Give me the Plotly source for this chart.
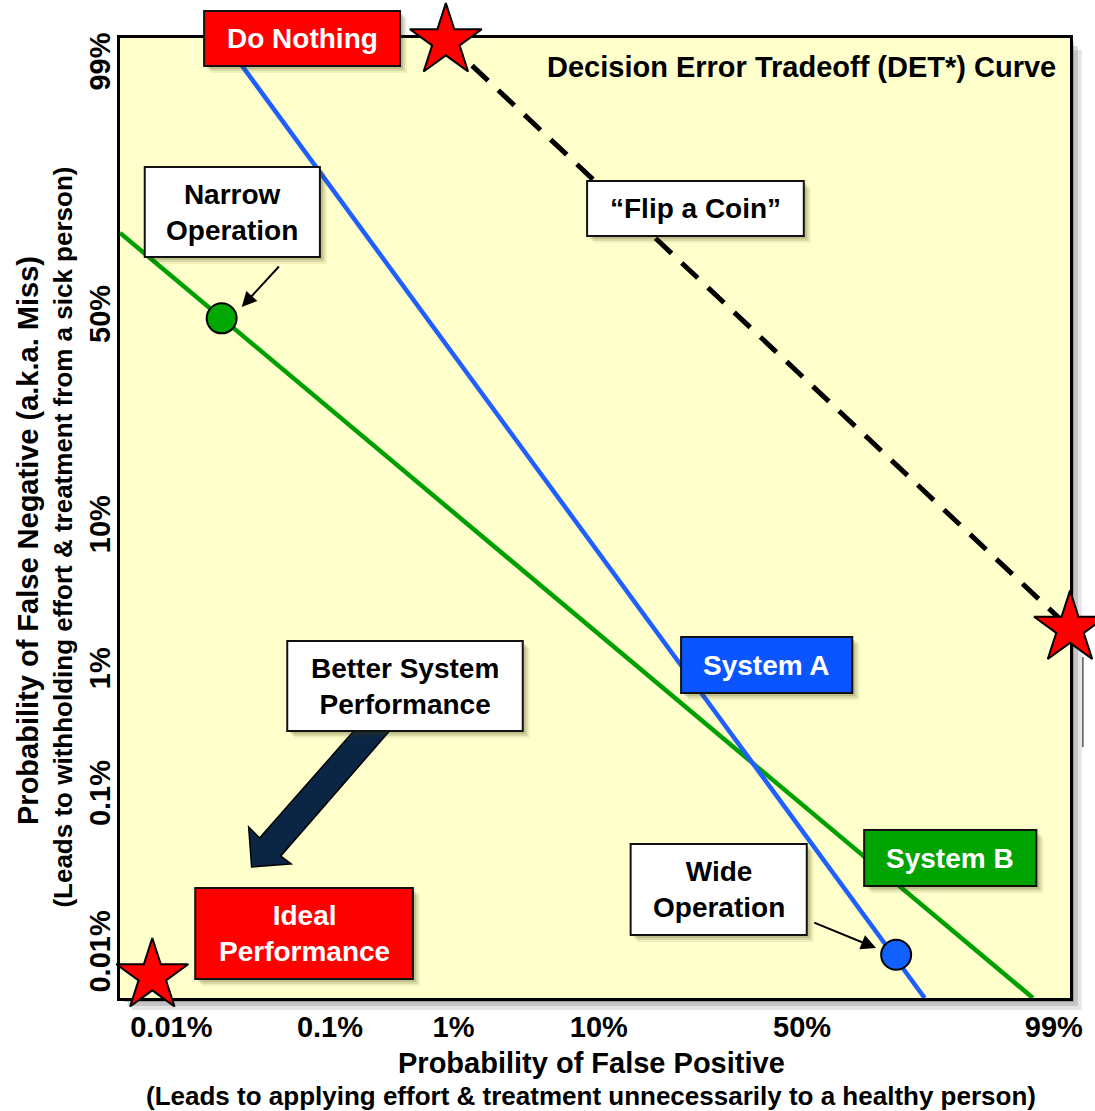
import plotly.graph_objects as go

# ---------------- data (chart units on a 0-100 normal-deviate DET scale) ----------------
tick_labels = ["0.01%", "0.1%", "1%", "10%", "50%", "99%"]
x_tick_vals = [5.4, 22.1, 35.1, 50.4, 71.8, 98.3]
y_tick_vals = [4.4, 20.9, 33.9, 48.9, 70.8, 97.1]

system_a_x = [10.7, 84.7]
system_a_y = [100.0, 0.0]
system_b_x = [0.0, 96.1]
system_b_y = [79.7, 0.0]
coin_x = [34.3, 100.0]
coin_y = [99.7, 38.5]

narrow_x = [10.7]
narrow_y = [70.8]
wide_x = [81.7]
wide_y = [4.5]

star_x = [34.3, 100.0, 3.4]
star_y = [99.7, 38.5, 2.3]

# ---------------- geometry ----------------
W, H = 1095, 1111
L, T, PW, PH = 120, 38, 960, 960
R = W - L - PW
B = H - T - PH

FONT = "Liberation Sans, Arial, Helvetica, sans-serif"
RED = "#FF0000"
BLUE_LINE = "#1F5FFF"
BLUE_BOX = "#0B55FF"
GREEN_LINE = "#00A000"
GREEN_BOX = "#00A400"
NAVY = "#0B2545"
YELLOW = "#FFFFCC"


def fx(px):
    return (px - L) / PW


def fy(py):
    return (T + PH - py) / PH


def ux(px):
    return (px - L) / PW * 100


def uy(py):
    return (T + PH - py) / PH * 100


fig = go.Figure()

fig.add_trace(go.Scatter(x=system_b_x, y=system_b_y, mode="lines",
                         line=dict(color=GREEN_LINE, width=4.5), hoverinfo="skip"))
fig.add_trace(go.Scatter(x=system_a_x, y=system_a_y, mode="lines",
                         line=dict(color=BLUE_LINE, width=4.5), hoverinfo="skip"))
fig.add_trace(go.Scatter(x=coin_x, y=coin_y, mode="lines",
                         line=dict(color="black", width=5, dash="22px,14px"), hoverinfo="skip"))
fig.add_trace(go.Scatter(x=narrow_x, y=narrow_y, mode="markers",
                         marker=dict(size=30, color="#00A800", line=dict(color="black", width=2)),
                         hoverinfo="skip"))
fig.add_trace(go.Scatter(x=wide_x, y=wide_y, mode="markers",
                         marker=dict(size=30, color="#1060FF", line=dict(color="black", width=2)),
                         hoverinfo="skip"))
fig.add_trace(go.Scatter(x=star_x, y=star_y, mode="markers", cliponaxis=False,
                         marker=dict(symbol="star", size=54, color=RED,
                                     line=dict(color="black", width=2)),
                         hoverinfo="skip"))

shapes = []
annotations = []

# plot-area drop shadow
for off, op in [(12, 0.10), (8, 0.14), (4, 0.20)]:
    shapes.append(dict(type="rect", xref="paper", yref="paper", layer="below",
                       x0=fx(L + off), x1=fx(min(L + PW + off, W - 1)), y0=fy(T + off),
                       y1=fy(T + PH + off),
                       fillcolor="rgba(0,0,0,%s)" % op, line=dict(width=0)))
shapes.append(dict(type="rect", xref="paper", yref="paper", layer="below",
                   x0=0, x1=1, y0=0, y1=1, fillcolor=YELLOW, line=dict(width=0)))
# partial box on right edge
shapes.append(dict(type="line", xref="paper", yref="paper", layer="below",
                   x0=fx(1093), x1=fx(1093), y0=fy(657), y1=fy(747),
                   line=dict(color="#555555", width=1.5)))

# big navy arrow
arrow_pts = [(253, 867), (250, 827), (261, 838), (366, 720), (402, 720), (282.5, 856), (293, 864)]
path = "M " + " L ".join("%.5f,%.5f" % (fx(a), fy(b)) for a, b in arrow_pts) + " Z"
shapes.append(dict(type="path", xref="paper", yref="paper", layer="above", path=path,
                   fillcolor=NAVY, line=dict(color="black", width=1.5)))

boxes = [
    (205, 11, 403, 66, RED, "Do Nothing", "white"),
    (145, 167, 322, 257, "white", "Narrow<br>Operation", "black"),
    (592, 181, 811, 236, "white", "\u201cFlip a Coin\u201d", "black"),
    (289, 641, 527, 731, "white", "Better System<br>Performance", "black"),
    (687, 637, 860, 693, BLUE_BOX, "System A", "white"),
    (872, 830, 1046, 886, GREEN_BOX, "System B", "white"),
    (636, 844, 814, 935, "white", "Wide<br>Operation", "black"),
    (196, 888, 416, 979, RED, "Ideal<br>Performance", "white"),
]
for x0, y0, x1, y1, fill, text, tcol in boxes:
    for off, op in [(7, 0.08), (5, 0.12), (3, 0.16)]:
        shapes.append(dict(type="rect", xref="paper", yref="paper", layer="above",
                           x0=fx(x0 + off), x1=fx(x1 + off), y0=fy(y0 + off), y1=fy(y1 + off),
                           fillcolor="rgba(60,60,0,%s)" % op, line=dict(width=0)))
    shapes.append(dict(type="rect", xref="paper", yref="paper", layer="above",
                       x0=fx(x0), x1=fx(x1), y0=fy(y0), y1=fy(y1),
                       fillcolor=fill, line=dict(color="#111111", width=2)))
    annotations.append(dict(xref="paper", yref="paper", x=fx((x0 + x1) / 2), y=fy((y0 + y1) / 2),
                            xanchor="center", yanchor="middle", showarrow=False, text=text,
                            align="center",
                            font=dict(family=FONT, size=28, color=tcol, weight="bold")))

# chart title
annotations.append(dict(xref="paper", yref="paper", x=fx(1068), y=fy(67), xanchor="right",
                        yanchor="middle", showarrow=False,
                        text="Decision Error Tradeoff (DET*) Curve",
                        font=dict(family=FONT, size=29, color="black", weight="bold")))

# small pointer arrows
for tail, tip in [((282, 265), (243, 307)), ((820, 922), (884, 948))]:
    annotations.append(dict(xref="x", yref="y", axref="x", ayref="y",
                            x=ux(tip[0]), y=uy(tip[1]), ax=ux(tail[0]), ay=uy(tail[1]),
                            text="", showarrow=True, arrowhead=2, arrowsize=1.5,
                            arrowwidth=2, arrowcolor="black", standoff=0))

# axis titles
annotations.append(dict(xref="paper", yref="paper", x=fx(596), y=fy(1063), xanchor="center",
                        yanchor="middle", showarrow=False, text="Probability of False Positive",
                        font=dict(family=FONT, size=29, color="black", weight="bold")))
annotations.append(dict(xref="paper", yref="paper", x=fx(596), y=fy(1096), xanchor="center",
                        yanchor="middle", showarrow=False,
                        text="(Leads to applying effort &amp; treatment unnecessarily to a healthy person)",
                        font=dict(family=FONT, size=26, color="black", weight="bold")))
annotations.append(dict(xref="paper", yref="paper", x=fx(27), y=fy(540), xanchor="center",
                        yanchor="middle", showarrow=False, textangle=-90,
                        text="Probability of False Negative (a.k.a. Miss)",
                        font=dict(family=FONT, size=29, color="black", weight="bold")))
annotations.append(dict(xref="paper", yref="paper", x=fx(62), y=fy(537), xanchor="center",
                        yanchor="middle", showarrow=False, textangle=-90,
                        text="(Leads to withholding effort &amp; treatment from a sick person)",
                        font=dict(family=FONT, size=26, color="black", weight="bold")))

axis_common = dict(range=[0, 100], showgrid=False, zeroline=False, showline=True,
                   linecolor="black", linewidth=2.5, mirror=True, ticks="",
                   layer="below traces", fixedrange=True, ticklabeloverflow="allow",
                   tickfont=dict(family=FONT, size=29, color="black", weight="bold"))

fig.update_layout(
    width=W, height=H,
    margin=dict(l=L, r=R, t=T, b=B, pad=0),
    paper_bgcolor="white",
    plot_bgcolor="rgba(0,0,0,0)",
    showlegend=False,
    hovermode=False,
    xaxis=dict(tickvals=x_tick_vals, ticktext=tick_labels, ticklabelstandoff=1, **axis_common),
    yaxis=dict(tickvals=y_tick_vals, ticktext=tick_labels, tickangle=-90,
               ticklabelstandoff=-4, **axis_common),
    shapes=shapes,
    annotations=annotations,
)

fig.write_html(
    "out.html",
    config={"displayModeBar": False, "responsive": False},
    post_script=(
        "document.documentElement.style.margin='0';"
        "document.documentElement.style.overflow='hidden';"
        "document.body.style.margin='0';document.body.style.padding='0';"
        "document.body.style.overflow='hidden';"
    ),
)
